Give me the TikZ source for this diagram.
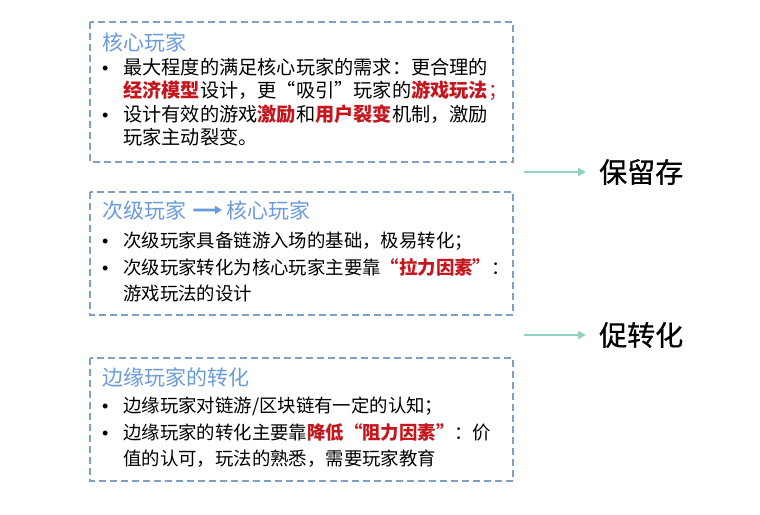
\documentclass[tikz,border=0pt]{standalone}
\usepackage{fontspec}
\setmainfont{Noto Sans CJK SC}
\newfontfamily\dotfont{Liberation Sans}
\newfontfamily\thickcjk[FakeBold=0.7]{Noto Sans CJK SC}
\usetikzlibrary{arrows.meta}
\definecolor{framegray}{HTML}{7F9FC6}
\definecolor{titleblue}{HTML}{6A9BDA}
\definecolor{hotred}{HTML}{C4161C}
\definecolor{arrowteal}{HTML}{93D2C3}
\newcommand{\hot}[1]{{\color{hotred}\bfseries #1}}

\begin{document}
\begin{tikzpicture}[x=1pt, y=-1pt,
  framebox/.style={draw=framegray, line width=1.3pt, dash pattern=on 7pt off 4pt},
  headline/.style={anchor=base west, inner sep=0pt, text=titleblue, font=\fontsize{21}{25}\selectfont},
  bodyline/.style={anchor=base west, inner sep=0pt, font=\fontsize{18.4}{22}\selectfont},
  bigline/.style={bodyline, font=\fontsize{19.2}{23}\selectfont},
  bulletmark/.style={anchor=base west, inner sep=0pt, font=\dotfont\fontsize{18}{22}\selectfont},
  outcome/.style={anchor=west, inner xsep=13pt, inner ysep=0pt, font=\thickcjk\fontsize{28}{32}\selectfont},
  flow/.style={draw=arrowteal, line width=2pt, -{Triangle[length=8pt, width=8pt]}}]
 \fill [white] (0, 0) rectangle (760, 514);

 \draw [framebox] (90, 22) rectangle (513, 162);
 \node [headline] (coretitle) at (102, 50) {核心玩家};
 \node [bulletmark] (corebulletA) at (102, 74) {•};
 \node [bigline] (corelineA) at (123, 74) {最大程度的满足核心玩家的需求：更合理的};
 \node [bigline] (corelineB) at (123, 97) {\hot{经济模型}设计，更“吸引”玩家的\hot{游戏玩法}{\color{hotred}；}};
 \node [bulletmark] (corebulletB) at (102, 121) {•};
 \node [bigline] (corelineC) at (123, 121) {设计有效的游戏\hot{激励}和\hot{用户裂变}机制，激励};
 \node [bigline] (corelineD) at (123, 144) {玩家主动裂变。};

 \draw [framebox] (90, 192) rectangle (513, 315);
 \node [headline] (nexttitleA) at (102, 218) {次级玩家};
 \node [headline] (nexttitleB) at (226, 218) {核心玩家};
 \draw [titleblue, line width=2.8pt, -{Triangle[length=7pt, width=8pt]}, shorten <=7pt, shorten >=4pt] (nexttitleA.east) -- (nexttitleB.west);
 \node [bulletmark] (nextbulletA) at (102, 247) {•};
 \node [bodyline] (nextlineA) at (123, 247) {次级玩家具备链游入场的基础，极易转化；};
 \node [bulletmark] (nextbulletB) at (102, 274) {•};
 \node [bodyline] (nextlineB) at (123, 274) {次级玩家转化为核心玩家主要靠\hot{“拉力因素”}：};
 \node [bodyline] (nextlineC) at (123, 300) {游戏玩法的设计};

 \draw [framebox] (90, 358) rectangle (513, 481);
 \node [headline] (edgetitle) at (102, 385) {边缘玩家的转化};
 \node [bulletmark] (edgebulletA) at (102, 412) {•};
 \node [bodyline] (edgelineA) at (123, 412) {边缘玩家对链游/区块链有一定的认知；};
 \node [bulletmark] (edgebulletB) at (102, 439) {•};
 \node [bodyline] (edgelineB) at (123, 439) {边缘玩家的转化主要靠\hot{降低“阻力因素”}：价};
 \node [bodyline] (edgelineC) at (123, 465) {值的认可，玩法的熟悉，需要玩家教育};

 \coordinate (keepfrom) at (524, 172);
 \node [outcome] (keep) at (586, 172) {保留存};
 \draw [flow] (keepfrom) -- (keep.west);
 \coordinate (turnfrom) at (524, 335);
 \node [outcome] (turn) at (586, 335) {促转化};
 \draw [flow] (turnfrom) -- (turn.west);
\end{tikzpicture}
\end{document}
